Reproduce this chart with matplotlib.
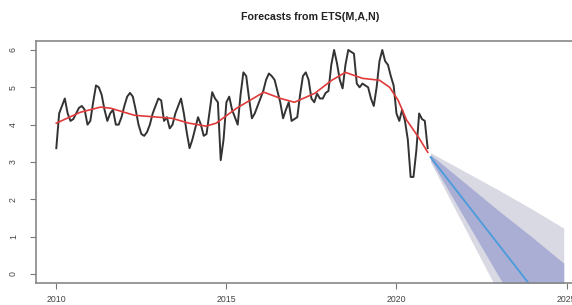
import numpy as np
import matplotlib
matplotlib.use("Agg")
import matplotlib.pyplot as plt

# monthly series, Jan 2010 .. Dec 2020
obs_start = 2010.0
obs = [
    3.37, 4.30, 4.50, 4.70, 4.30, 4.10, 4.15, 4.30, 4.45, 4.50, 4.40, 4.00,
    4.10, 4.60, 5.05, 5.00, 4.80, 4.40, 4.10, 4.30, 4.40, 4.00, 4.00, 4.20,
    4.50, 4.75, 4.85, 4.75, 4.40, 4.00, 3.75, 3.70, 3.80, 4.00, 4.30, 4.50,
    4.70, 4.65, 4.10, 4.20, 3.90, 4.00, 4.30, 4.50, 4.70, 4.30, 3.80, 3.37,
    3.60, 3.90, 4.20, 4.00, 3.70, 3.75, 4.30, 4.87, 4.70, 4.60, 3.05, 3.60,
    4.60, 4.75, 4.40, 4.20, 4.00, 4.80, 5.40, 5.30, 4.70, 4.17, 4.30, 4.50,
    4.70, 4.90, 5.20, 5.37, 5.30, 5.20, 4.90, 4.60, 4.17, 4.40, 4.60, 4.10,
    4.15, 4.20, 4.80, 5.30, 5.40, 5.20, 4.70, 4.60, 4.83, 4.70, 4.70, 4.85,
    4.90, 5.60, 6.00, 5.65, 5.20, 4.97, 5.60, 6.00, 5.95, 5.90, 5.10, 5.00,
    5.10, 5.05, 5.00, 4.70, 4.50, 5.00, 5.70, 6.00, 5.70, 5.60, 5.30, 5.05,
    4.30, 4.10, 4.40, 4.10, 3.60, 2.60, 2.60, 3.30, 4.30, 4.15, 4.10, 3.37,
]

# fitted values (red), read at a set of dates
fit_t = [2010.0, 2010.7, 2011.3, 2011.6, 2012.3, 2013.0, 2013.4, 2013.9,
         2014.4, 2014.7, 2015.3, 2016.1, 2016.6, 2017.0, 2017.6, 2018.1,
         2018.5, 2019.0, 2019.5, 2019.8, 2020.05, 2020.3, 2020.65, 2020.92]
fit_v = [4.04, 4.33, 4.47, 4.44, 4.25, 4.20, 4.17, 4.04,
         3.96, 4.04, 4.44, 4.87, 4.70, 4.60, 4.84, 5.19,
         5.40, 5.24, 5.19, 5.00, 4.65, 4.12, 3.66, 3.26]

# forecast, Jan 2021 .. Dec 2024
fc_t = [2021.0, 2022.0, 2023.0, 2024.0, 2024.917]
fc_mean = [3.13, 1.96, 0.79, -0.38, -1.45]
fc_lo80 = [3.06, 1.50, -0.05, -1.60, -3.00]
fc_hi80 = [3.20, 2.45, 1.70, 0.98, 0.29]
fc_lo95 = [3.00, 1.25, -0.50, -2.20, -3.80]
fc_hi95 = [3.25, 2.75, 2.25, 1.73, 1.23]

x_ticks = [2010, 2015, 2020, 2025]
y_ticks = [0, 1, 2, 3, 4, 5, 6]

obs_t = obs_start + np.arange(len(obs)) / 12.0

fig = plt.figure(figsize=(5.72, 3.05), dpi=100)
ax = fig.add_axes([36 / 572, 22 / 305, 548 / 572, 242 / 305])

ax.fill_between(fc_t, fc_lo95, fc_hi95, color="#d9d9e3", lw=0)
ax.fill_between(fc_t, fc_lo80, fc_hi80, color="#aaaed4", lw=0)
ax.plot(fc_t, fc_mean, color="#4a9bdb", lw=1.3)
ax.plot(obs_t, obs, color="#333333", lw=1.4)
ax.plot(fit_t, fit_v, color="#e03a3a", lw=1.2)

ax.set_xlim(2009.403, 2025.513)
ax.set_ylim(-0.24, 6.24)

ax.set_xticks(x_ticks)
ax.set_xticklabels([str(t) for t in x_ticks])
ax.set_yticks(y_ticks)
ax.set_yticklabels([str(t) for t in y_ticks], rotation=90, va="center")
ax.tick_params(colors="#777777", labelcolor="#444444", labelsize=6.3,
               length=4, width=0.8)
ax.tick_params(axis="x", pad=5)
ax.tick_params(axis="y", pad=9)

for s in ["left", "top", "bottom"]:
    ax.spines[s].set_color("#888888")
    ax.spines[s].set_linewidth(1.2)
ax.spines["right"].set_visible(False)

ax.set_title("Forecasts from ETS(M,A,N)", fontsize=7.7, fontweight="bold",
             family="Liberation Sans", color="#222222", pad=15)
for lab in ax.get_xticklabels() + ax.get_yticklabels():
    lab.set_family("Liberation Sans")

fig.savefig("out.png", dpi=100)
